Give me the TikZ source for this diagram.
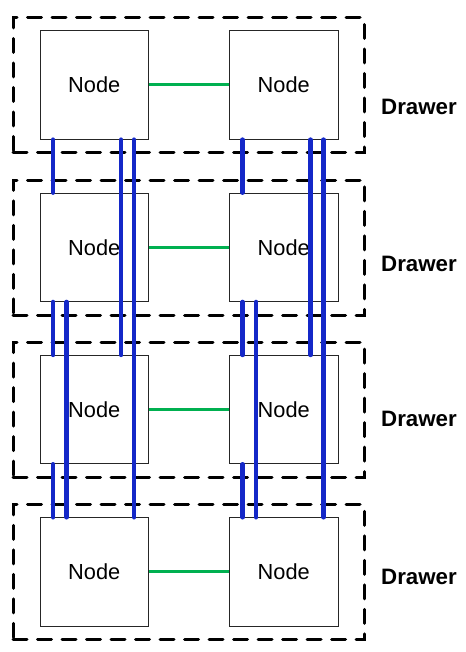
\documentclass[tikz,border=0pt]{standalone}
\usepackage{fontspec}
\setmainfont{Liberation Sans}
\definecolor{busblue}{RGB}{20,40,200}
\definecolor{linkgreen}{RGB}{0,176,80}
\tikzset{
  nodebox/.style={draw=black!85, line width=0.8pt, fill=white, minimum width=108.5pt, minimum height=108.5pt, inner sep=0pt, font=\fontsize{21.8}{25}\selectfont},
  drawerbox/.style={draw=black, line width=3pt, dash pattern=on 14pt off 10.5pt, line cap=round, minimum width=351pt, minimum height=135pt, inner sep=0pt},
  drawerlabel/.style={anchor=west, inner sep=0pt, font=\fontsize{22.3}{26}\selectfont\bfseries},
  link/.style={draw=linkgreen, line width=3pt},
  bus/.style={draw=busblue, line width=4.5pt, line cap=round}
}
\begin{document}
\begin{tikzpicture}[x=1pt,y=-1pt]
\useasboundingbox (0,0) rectangle (465,652);
% drawers
\foreach \i/\c in {1/85,2/247.3,3/409.6,4/571.9}{
  \node[drawerbox] (d\i) at (188.5,\c+0.5) {};
}
% nodes
\foreach \i/\c in {1/85,2/247.3,3/409.6,4/571.9}{
  \node[nodebox] (n\i1) at (94.3,\c) {Node};
  \node[nodebox] (n\i2) at (283.8,\c) {Node};
}
% labels
\node[drawerlabel] (l1) at (381,106.5) {Drawer};
\node[drawerlabel] (l2) at (381,264) {Drawer};
\node[drawerlabel] (l3) at (381,419) {Drawer};
\node[drawerlabel] (l4) at (381,577) {Drawer};
% green links
\foreach \i in {1,2,3,4}{
  \draw[link] (n\i1.east) -- (n\i2.west);
}
% blue buses
\foreach \col in {1,2}{
  \draw[bus] ([xshift=13.5pt]n1\col.south west) -- ([xshift=13.5pt]n2\col.north west);
  \draw[bus] ([xshift=13.5pt]n2\col.south west) -- ([xshift=13.5pt]n3\col.north west);
  \draw[bus] ([xshift=13.5pt]n3\col.south west) -- ([xshift=13.5pt]n4\col.north west);
  \draw[bus] ([xshift=27pt]n2\col.south west) -- ([xshift=27pt]n4\col.north west);
  \draw[bus] ([xshift=81.5pt]n1\col.south west) -- ([xshift=81.5pt]n3\col.north west);
  \draw[bus] ([xshift=94.5pt]n1\col.south west) -- ([xshift=94.5pt]n4\col.north west);
}
\end{tikzpicture}
\end{document}
